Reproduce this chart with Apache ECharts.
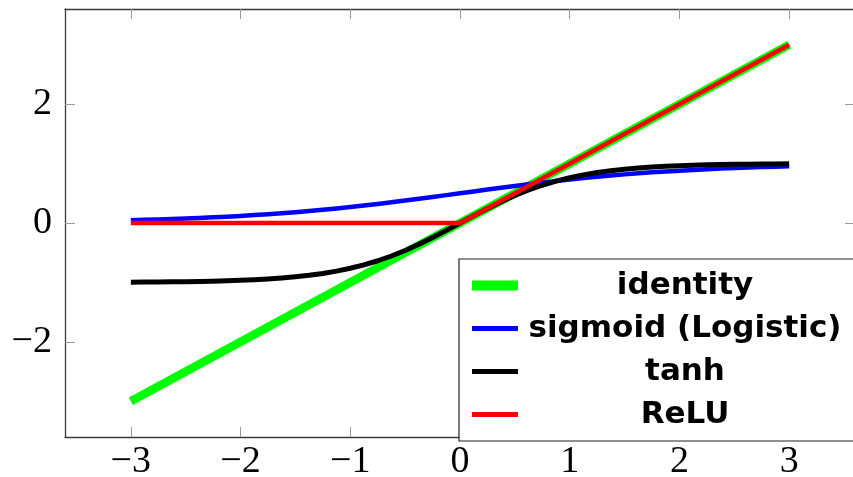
<!DOCTYPE html>
<html>
<head>
<meta charset="utf-8">
<script src="https://cdn.jsdelivr.net/npm/echarts@6/dist/echarts.min.js"></script>
<style>
html,body{margin:0;padding:0;background:#fff;}
#chart{width:853px;height:477px;}
</style>
</head>
<body>
<div id="chart"></div>
<script>
// ---- data ----
const seriesNames = ['identity', 'sigmoid (Logistic)', 'tanh', 'ReLU'];
const xTicks = [-3, -2, -1, 0, 1, 2, 3];
const yTicks = [-2, 0, 2];
const xs = [-3, -2.875, -2.75, -2.625, -2.5, -2.375, -2.25, -2.125, -2, -1.875, -1.75, -1.625,
            -1.5, -1.375, -1.25, -1.125, -1, -0.875, -0.75, -0.625, -0.5, -0.375, -0.25, -0.125, 0,
            0.125, 0.25, 0.375, 0.5, 0.625, 0.75, 0.875, 1, 1.125, 1.25, 1.375, 1.5,
            1.625, 1.75, 1.875, 2, 2.125, 2.25, 2.375, 2.5, 2.625, 2.75, 2.875, 3];
const identityX = [-3, 3];
const identityY = [-3, 3];
const sigmoidY = [0.047, 0.053, 0.060, 0.068, 0.076, 0.085, 0.095, 0.107, 0.119, 0.133, 0.148, 0.165,
                  0.182, 0.202, 0.223, 0.245, 0.269, 0.294, 0.321, 0.349, 0.378, 0.407, 0.438, 0.469, 0.500,
                  0.531, 0.562, 0.593, 0.622, 0.651, 0.679, 0.706, 0.731, 0.755, 0.777, 0.798, 0.818,
                  0.836, 0.852, 0.867, 0.881, 0.893, 0.905, 0.915, 0.924, 0.932, 0.940, 0.947, 0.953];
const tanhY = [-0.995, -0.994, -0.992, -0.990, -0.987, -0.983, -0.978, -0.972, -0.964, -0.954, -0.941, -0.925,
               -0.905, -0.880, -0.848, -0.810, -0.762, -0.704, -0.635, -0.555, -0.462, -0.358, -0.245, -0.124, 0,
               0.124, 0.245, 0.358, 0.462, 0.555, 0.635, 0.704, 0.762, 0.810, 0.848, 0.880, 0.905,
               0.925, 0.941, 0.954, 0.964, 0.972, 0.978, 0.983, 0.987, 0.990, 0.992, 0.994, 0.995];
const reluX = [-3, 0, 3];
const reluY = [0, 0, 3];

const zip = (a, b) => a.map((v, i) => [v, b[i]]);
const fmt = v => String(v).replace('-', '\u2212');

const frameColor = '#3a3a3a';
const tickColor = '#999';
const labelFont = {fontFamily: 'Liberation Serif', fontSize: 38, color: '#000'};
const barIcon = 'path://M0,3.5L46,3.5L46,8.5L0,8.5Z';

const chart = echarts.init(document.getElementById('chart'), null, {renderer: 'canvas'});
chart.setOption({
  animation: false,
  backgroundColor: '#fff',
  grid: {left: 65, top: 9, width: 790, height: 428, containLabel: false, outerBoundsMode: 'none'},
  xAxis: [{
    type: 'value', min: -3.6, max: 3.6, position: 'bottom',
    splitLine: {show: false},
    axisLine: {show: true, onZero: false, lineStyle: {color: frameColor, width: 1.3}},
    axisTick: {show: true, inside: true, length: 10, customValues: xTicks, lineStyle: {color: tickColor, width: 1}},
    axisLabel: Object.assign({show: true, margin: 6, customValues: xTicks, formatter: fmt}, labelFont)
  }, {
    type: 'value', min: -3.6, max: 3.6, position: 'top',
    splitLine: {show: false},
    axisLine: {show: true, onZero: false, lineStyle: {color: frameColor, width: 1.3}},
    axisTick: {show: true, inside: true, length: 10, customValues: xTicks, lineStyle: {color: tickColor, width: 1}},
    axisLabel: {show: false}
  }],
  yAxis: [{
    type: 'value', min: -3.6, max: 3.6, position: 'left',
    splitLine: {show: false},
    axisLine: {show: true, onZero: false, lineStyle: {color: frameColor, width: 1.3}},
    axisTick: {show: true, inside: true, length: 10, customValues: yTicks, lineStyle: {color: tickColor, width: 1}},
    axisLabel: Object.assign({show: true, margin: 13, customValues: yTicks, formatter: fmt}, labelFont)
  }, {
    type: 'value', min: -3.6, max: 3.6, position: 'right',
    splitLine: {show: false},
    axisLine: {show: true, onZero: false, lineStyle: {color: frameColor, width: 1.3}},
    axisTick: {show: true, inside: true, length: 10, customValues: yTicks, lineStyle: {color: tickColor, width: 1}},
    axisLabel: {show: false}
  }],
  legend: {
    left: 459, top: 259,
    orient: 'vertical',
    padding: [11, 12, 11, 13],
    itemGap: 12,
    itemWidth: 46, itemHeight: 10,
    backgroundColor: '#fff',
    borderColor: '#222', borderWidth: 1.2, borderRadius: 0,
    data: [
      {name: seriesNames[0], icon: 'rect', itemStyle: {color: '#00ff00'}},
      {name: seriesNames[1], icon: barIcon, itemStyle: {color: '#0000ff'}},
      {name: seriesNames[2], icon: barIcon, itemStyle: {color: '#000000'}},
      {name: seriesNames[3], icon: barIcon, itemStyle: {color: '#ff0000'}}
    ],
    formatter: n => '{t|' + n + '}',
    textStyle: {
      rich: {
        t: {width: 324, align: 'center', lineHeight: 30, fontFamily: 'DejaVu Sans', fontWeight: 'bold', fontSize: 31, color: '#000'}
      }
    }
  },
  series: [
    {name: seriesNames[0], type: 'line', showSymbol: false, symbol: 'none', data: zip(identityX, identityY),
     lineStyle: {color: '#00ff00', width: 8.5, cap: 'butt'}, itemStyle: {color: '#00ff00'}, z: 2},
    {name: seriesNames[1], type: 'line', showSymbol: false, symbol: 'none', data: zip(xs, sigmoidY),
     lineStyle: {color: '#0000ff', width: 4.5, cap: 'butt', join: 'round'}, itemStyle: {color: '#0000ff'}, z: 3},
    {name: seriesNames[2], type: 'line', showSymbol: false, symbol: 'none', data: zip(xs, tanhY),
     lineStyle: {color: '#000000', width: 5, cap: 'butt', join: 'round'}, itemStyle: {color: '#000000'}, z: 4},
    {name: seriesNames[3], type: 'line', showSymbol: false, symbol: 'none', data: zip(reluX, reluY),
     lineStyle: {color: '#ff0000', width: 4.5, cap: 'butt'}, itemStyle: {color: '#ff0000'}, z: 5}
  ]
});
</script>
</body>
</html>
